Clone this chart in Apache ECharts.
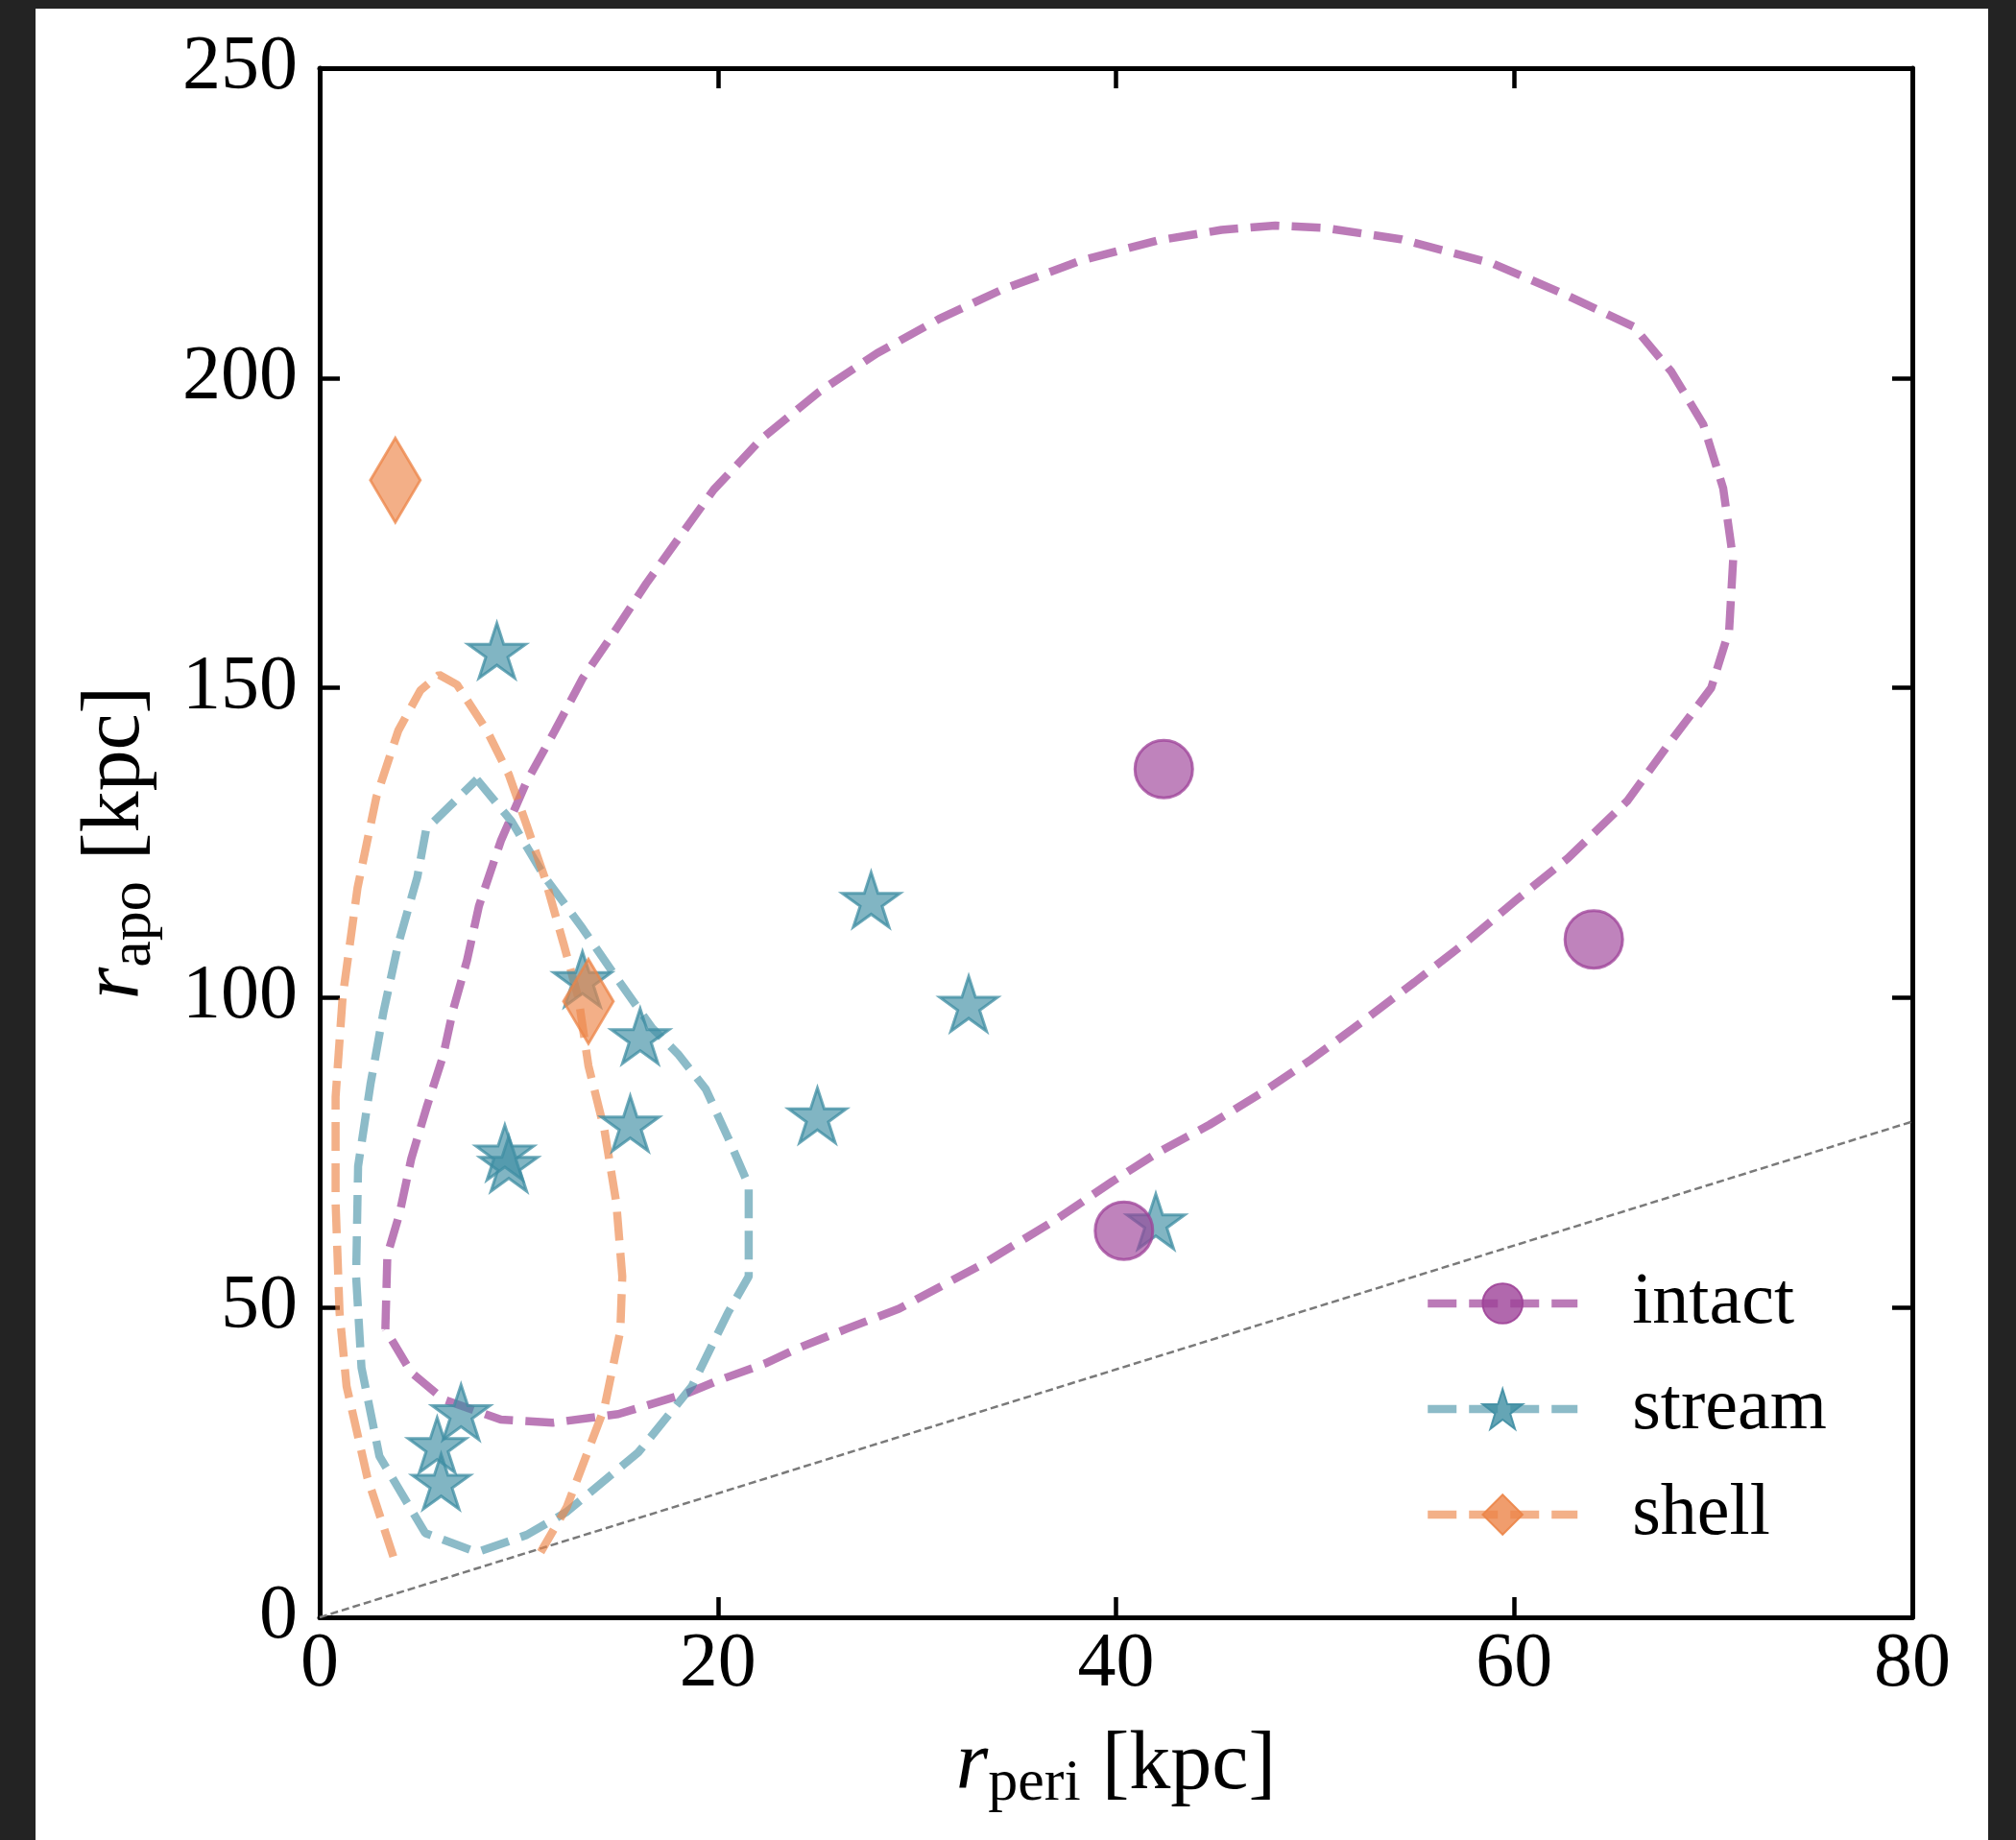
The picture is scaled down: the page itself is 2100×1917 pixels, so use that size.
<!DOCTYPE html>
<html><head><meta charset="utf-8">
<script src="https://cdn.jsdelivr.net/npm/echarts@6/dist/echarts.min.js"></script>
<style>
html,body{margin:0;padding:0;background:#232323;overflow:hidden;}
#paper{position:absolute;left:37px;top:9px;width:2034px;height:1908px;background:#fff;}
#chart{position:absolute;left:0;top:0;width:2100px;height:1917px;}
</style></head><body>
<div id="paper"></div><div id="chart"></div>
<script>
// ---- data (kpc) ----
const intactPeri = [42.4, 64.0, 40.4];
const intactApo  = [136.9, 109.4, 62.4];
const streamPeri = [8.9, 27.7, 32.6, 13.2, 16.1, 15.6, 25.0, 9.3, 9.5, 42.0, 7.1, 5.9, 6.1];
const streamApo  = [156.0, 115.8, 99.0, 103.0, 93.8, 79.7, 81.0, 75.0, 73.2, 63.9, 33.1, 27.8, 21.9];
const shellPeri  = [3.8, 13.5];
const shellApo   = [183.5, 99.4];

const intactContour = [
  [3.3,46.5],[3.4,58.5],[4.0,65],[4.6,74],[5.4,82.6],[6.2,90.6],[6.7,98],[7.4,106],[8.0,114.8],
  [9.1,125.3],[10.4,134.9],[11.8,143],[13.2,151.5],[14.8,159],[16.4,166.8],[18,174],[19.8,182.0],
  [22.2,190.2],[25.1,197.8],[28,204],[31.1,209.5],[34.3,214.3],[38.2,218.9],[42.1,222.2],[45.3,223.9],
  [48,224.6],[50.5,224.2],[54.3,222.4],[58.9,218.5],[62.4,213.7],[66,208.3],[67.9,201],[69.5,192.5],
  [70.5,182.2],[71,170.7],[70.8,159.3],[69.9,150],[67.9,141.5],[65.7,131.8],[62.7,122.5],[60.2,116],
  [57.6,109],[55,102.5],[52.4,96.2],[49.8,90],[47.2,84.4],[44.7,79.5],[42.1,75],[39.8,70.3],[36.9,64],
  [33.3,57],[29.1,49.8],[26.5,46.6],[24,43.4],[22.4,41],[20,38.2],[18.5,36.2],[15,32.8],[11.7,31.4],
  [9.1,31.9],[6.2,35.2],[4.6,39.5],[3.3,46.5]
];
const streamContour = [
  [7.9,135.2],[9.65,128.4],[11.3,119.5],[13.2,111.2],[15.0,102.8],[16.7,95.1],[18.0,90.9],[19.4,85.2],
  [20.5,77.5],[21.55,69.7],[21.55,55],[20.5,49.1],[18.7,37.3],[16.0,26.6],[12.4,17.0],[10.4,13.3],
  [7.9,10.5],[5.3,13.6],[3.0,26.0],[2.1,40.3],[1.83,55.0],[1.93,72.8],[2.55,86],[3.2,97.6],
  [3.95,108.7],[4.9,119.4],[5.35,127.2],[7.9,135.2]
];
const shellContour = [
  [3.7,9.8],[2.4,22.5],[1.35,37.3],[1.0,49.1],[0.8,66.9],[0.8,84],[1.15,100],[1.9,117.7],[2.85,132.4],
  [3.95,143.1],[5.06,149.6],[6.0,152.1],[6.9,150.5],[8.4,143.1],[9.5,136],[10.4,127.8],[11.3,119.4],
  [12.25,108.7],[13.0,99.9],[13.5,89],[14.3,78.7],[14.9,66.9],[15.2,55],[15.1,46.2],[14.3,33.8],
  [12.4,17.7],[11.1,10.5]
];
const oneToOne = [[0,0],[80,80]];
const xRange = [0, 80, 20];
const yRange = [0, 250, 50];
const seriesNames = ['intact', 'stream', 'shell'];

// ---- styles ----
const FONT = "'Liberation Serif','DejaVu Serif',serif";
const STAR = 'path://M0,-1L0.2245,-0.309L0.951,-0.309L0.363,0.118L0.588,0.809L0,0.382L-0.588,0.809L-0.363,0.118L-0.951,-0.309L-0.2245,-0.309Z';
const DIAMOND = 'path://M0,-1L0.6,0L0,1L-0.6,0Z';
const C = {
  intact: [158,66,152],
  stream: [63,142,163],
  shell: [236,133,72]
};
const rgba = (c,a) => `rgba(${c[0]},${c[1]},${c[2]},${a})`;
const zip = (a,b) => a.map((v,i)=>[v,b[i]]);

function contour(name, data, sym, col, lineAlpha) {
  return {
    name, type: 'line', data, symbol: sym, showSymbol: false, smooth: false,
    silent: true, z: 2,
    lineStyle: { color: rgba(col, lineAlpha), width: 8.5, type: [30, 13], cap: 'butt' },
    itemStyle: { color: rgba(col, 0.8), borderColor: rgba(col, 0.9), borderWidth: 2.5 }
  };
}
function pts(name, data, sym, size, col, z, keep) {
  return {
    name, type: 'scatter', data, symbol: sym, symbolSize: size, symbolKeepAspect: keep, z, silent: true,
    itemStyle: { color: rgba(col, 0.82), borderColor: rgba(col, 0.95), borderWidth: 3 }
  };
}

const axisCommon = (pos, range, showLabel, extra) => Object.assign({
  type: 'value', position: pos, min: range[0], max: range[1], interval: range[2],
  splitLine: { show: false },
  axisLine: { show: true, onZero: false, lineStyle: { color: '#000', width: 5 } },
  axisTick: { show: true, inside: true, length: 21, lineStyle: { color: '#000', width: 4.5 } },
  axisLabel: { show: showLabel, color: '#000', fontSize: 80, fontFamily: FONT }
}, extra || {});

const titleRich = {
  i: { fontFamily: FONT, fontSize: 86, fontStyle: 'italic', color: '#000' },
  s: { fontFamily: FONT, fontSize: 62, color: '#000', padding: [38, 0, 0, 0] },
  n: { fontFamily: FONT, fontSize: 86, color: '#000', padding: [0, 0, 0, 22] }
};

const option = {
  animation: false,
  backgroundColor: 'transparent',
  grid: { left: 333, top: 71, width: 1659, height: 1614, containLabel: false },
  xAxis: [
    axisCommon('bottom', xRange, true, {
      name: '{i|r}{s|peri}{n|[kpc]}', nameLocation: 'middle', nameGap: 105,
      axisLabel: { show: true, color: '#000', fontSize: 80, fontFamily: FONT, margin: 10 },
      nameTextStyle: { fontFamily: FONT, fontSize: 86, color: '#000', rich: titleRich }
    }),
    axisCommon('top', xRange, false)
  ],
  yAxis: [
    axisCommon('left', yRange, true, {
      name: '{i|r}{s|apo}{n|[kpc]}', nameLocation: 'middle', nameGap: 162, nameRotate: 90,
      axisLabel: { show: true, color: '#000', fontSize: 80, fontFamily: FONT, margin: 23 },
      nameTextStyle: { fontFamily: FONT, fontSize: 86, color: '#000', rich: titleRich }
    }),
    axisCommon('right', yRange, false)
  ],
  legend: {
    data: seriesNames, orient: 'vertical', left: 1478, top: 1315,
    itemWidth: 156, itemHeight: 52, itemGap: 34,
    lineStyle: { width: 'inherit' },
    textStyle: { fontFamily: FONT, fontSize: 76, color: '#000', padding: [0, 0, 0, 52] },
    selectedMode: false
  },
  series: [
    contour(seriesNames[0], intactContour, 'circle', C.intact, 0.7),
    contour(seriesNames[1], streamContour, STAR, C.stream, 0.6),
    contour(seriesNames[2], shellContour, DIAMOND, C.shell, 0.65),
    { name: 'one-to-one', type: 'line', data: oneToOne, symbol: 'none', silent: true, z: 1,
      lineStyle: { color: '#7a7a7a', width: 2.5, type: [8, 4] } },
    pts('stream points', zip(streamPeri, streamApo), STAR, 60, C.stream, 3, true),
    pts('intact points', zip(intactPeri, intactApo), 'circle', 60, C.intact, 4, true),
    pts('shell points', zip(shellPeri, shellApo), DIAMOND, [52, 88], C.shell, 5, false)
  ]
};
const chart = echarts.init(document.getElementById('chart'), null, { renderer: 'canvas' });
chart.setOption(option);
</script></body></html>
